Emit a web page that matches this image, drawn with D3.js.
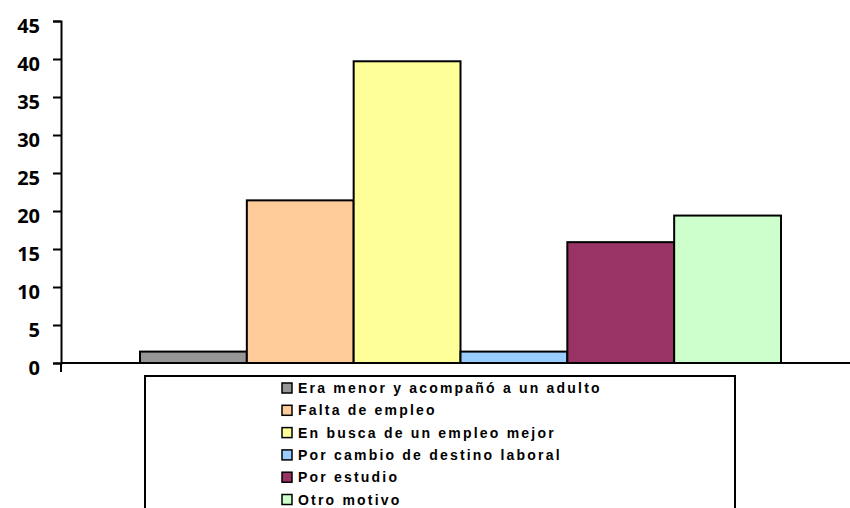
<!DOCTYPE html>
<html>
<head>
<meta charset="utf-8">
<script src="https://cdn.jsdelivr.net/npm/d3@7"></script>
<style>
  body { margin: 0; background: #fff; }
  .ylab { font-family: "Open Sans", "Liberation Sans", sans-serif; font-weight: 700; font-size: 20px; }
  .leg { font-family: "Liberation Sans", Arial, sans-serif; font-weight: 700; font-size: 14px; letter-spacing: 2.2px; }
</style>
</head>
<body>
<svg id="chart" width="850" height="508"></svg>
<script>
// reasons for migrating (percent)
const reasons = [
  "Era menor y acompañó a un adulto",
  "Falta de empleo",
  "En busca de un empleo mejor",
  "Por cambio de destino laboral",
  "Por estudio",
  "Otro motivo"
];
const values = [1.5, 21.4, 39.7, 1.5, 15.9, 19.4];
const colors = ["#969696", "#FFCC99", "#FFFF99", "#99CCFF", "#993366", "#CCFFCC"];
const yTicks = [0, 5, 10, 15, 20, 25, 30, 35, 40, 45];

const width = 850, height = 508;
const margin = {top: 21, left: 61, right: 0, bottom: 145};

const svg = d3.select("#chart");

let y = d3.scaleLinear()
  .domain([0, 45])
  .range([height - margin.bottom, margin.top]);

// one category, six series side by side with no gap
let x = d3.scaleBand()
  .domain(reasons)
  .range([140, 781])
  .padding(0);

svg.append("g")
  .selectAll("rect")
  .data(values)
  .enter().append("rect")
    .attr("x", (d, i) => x(reasons[i]))
    .attr("y", d => y(d))
    .attr("width", x.bandwidth())
    .attr("height", d => y(0) - y(d))
    .attr("fill", (d, i) => colors[i])
    .attr("stroke", "#000")
    .attr("stroke-width", 2);

// y axis
let yAxis = d3.axisLeft(y).tickValues(yTicks).tickSize(8).tickPadding(13);
let gy = svg.append("g")
  .attr("transform", `translate(${margin.left},0)`)
  .call(yAxis);
gy.select(".domain").attr("stroke", "#000").attr("stroke-width", 2);
gy.selectAll(".tick line").attr("stroke", "#000").attr("stroke-width", 2);
gy.selectAll(".tick text")
  .attr("class", "ylab")
  .attr("fill", "#000")
  .attr("dy", "0.55em");

// x axis baseline with the crossing tick
svg.append("line")
  .attr("x1", margin.left).attr("x2", width)
  .attr("y1", y(0)).attr("y2", y(0))
  .attr("stroke", "#000").attr("stroke-width", 2);
svg.append("line")
  .attr("x1", margin.left).attr("x2", margin.left)
  .attr("y1", y(0)).attr("y2", y(0) + 9)
  .attr("stroke", "#000").attr("stroke-width", 2);

// legend
svg.append("rect")
  .attr("x", 145).attr("y", 376)
  .attr("width", 590).attr("height", 140)
  .attr("fill", "#fff")
  .attr("stroke", "#000").attr("stroke-width", 2);

let leg = svg.append("g").selectAll("g")
  .data(reasons)
  .enter().append("g")
    .attr("transform", (d, i) => `translate(282,${388 + i * 22.3})`);

leg.append("rect")
  .attr("x", 0).attr("y", -5)
  .attr("width", 10).attr("height", 10)
  .attr("fill", (d, i) => colors[i])
  .attr("stroke", "#000").attr("stroke-width", 1.5);

leg.append("text")
  .attr("class", "leg")
  .attr("x", 16).attr("y", 0)
  .attr("dy", "0.36em")
  .text(d => d);
</script>
</body>
</html>
